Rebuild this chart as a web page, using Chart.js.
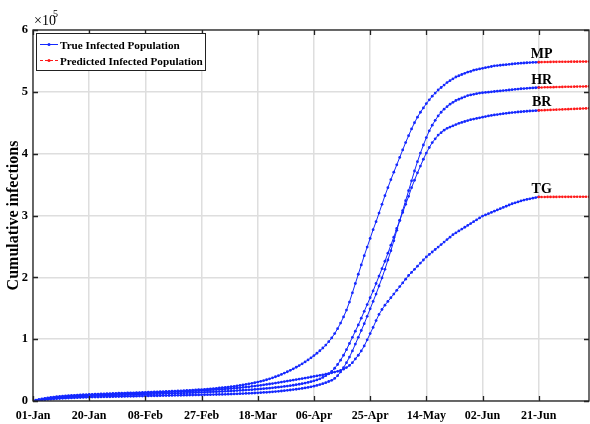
<!DOCTYPE html>
<html>
<head>
<meta charset="utf-8">
<script src="https://cdn.jsdelivr.net/npm/chart.js@4.4.0/dist/chart.umd.min.js"></script>
<style>
  body { margin: 0; background: #fff; }
  #wrap { width: 590px; height: 424px; }
</style>
</head>
<body>
<div id="wrap"><canvas id="myChart"></canvas></div>
<script>
// tick labels on the date axis, one every 19 days starting 01-Jan
var dateLabels = ['01-Jan', '20-Jan', '08-Feb', '27-Feb', '18-Mar', '06-Apr', '25-Apr', '14-May', '02-Jun', '21-Jun'];
var tickStep = 19;
var lastTrueDay = 171;
var lastDay = 188;

// region names written at the end of each curve
var regionNames = ['MP', 'HR', 'BR', 'TG'];

// true cumulative infections, thousands, one value per day (day 0 = 01-Jan)
var mpTrue = [
  0, 1.2, 2.3, 3.3, 4.2, 5.0, 5.7, 6.3, 6.9, 7.4, 7.8, 8.2, 8.6, 8.9, 9.2, 9.5, 9.8, 10.1, 10.3, 10.6,
  10.8, 11.0, 11.2, 11.4, 11.6, 11.8, 12.0, 12.1, 12.3, 12.5, 12.7, 12.8, 13.0, 13.2, 13.3, 13.5, 13.7, 13.8, 14.0, 14.2,
  14.4, 14.6, 14.8, 15.0, 15.2, 15.4, 15.6, 15.8, 16.0, 16.2, 16.5, 16.7, 17.0, 17.3, 17.6, 17.9, 18.2, 18.5, 18.9, 19.3,
  19.7, 20.1, 20.5, 21.0, 21.5, 22.0, 22.6, 23.2, 23.8, 24.5, 25.2, 26.0, 26.8, 27.7, 28.6, 29.6, 30.6, 31.8, 33.0, 34.4,
  35.9, 37.5, 39.2, 41.0, 43.0, 45.1, 47.3, 49.6, 52.0, 54.6, 57.3, 60.2, 63.2, 66.4, 69.8, 73.4, 77.2, 81.3, 85.7, 90.5,
  96, 102, 109, 117, 126, 136, 147, 160, 175, 190, 205, 220, 235, 249, 263, 277, 290, 304, 318, 332,
  345, 358, 370, 382, 394, 406, 418, 429, 440, 450, 459, 467, 474, 481, 487, 493, 498, 503, 507, 511,
  515, 518, 521, 524, 526, 528, 530, 532, 533, 535, 536, 537, 538, 539, 540, 541, 542, 542.5, 543, 543.5,
  544, 544.5, 545, 545.5, 546, 546.3, 546.6, 547, 547.3, 547.6, 547.8, 548
];
var hrTrue = [
  0, 0.6, 1.2, 1.7, 2.2, 2.6, 3.0, 3.4, 3.7, 4.0, 4.3, 4.6, 4.8, 5.0, 5.2, 5.4, 5.6, 5.8, 6.0, 6.2,
  6.3, 6.4, 6.5, 6.6, 6.7, 6.8, 6.9, 7.0, 7.1, 7.2, 7.3, 7.4, 7.5, 7.6, 7.7, 7.8, 7.9, 8.0, 8.1, 8.2,
  8.3, 8.4, 8.5, 8.6, 8.7, 8.8, 8.9, 9.0, 9.1, 9.2, 9.3, 9.4, 9.5, 9.6, 9.7, 9.8, 9.9, 10.0, 10.1, 10.2,
  10.3, 10.4, 10.5, 10.6, 10.7, 10.8, 11.0, 11.2, 11.4, 11.6, 11.8, 12.0, 12.2, 12.4, 12.6, 12.9, 13.2, 13.5, 13.8, 14.1,
  14.5, 14.9, 15.3, 15.7, 16.2, 16.7, 17.2, 17.8, 18.4, 19.0, 19.7, 20.4, 21.2, 22.0, 23.0, 24.0, 25.2, 26.5, 28.0, 29.6,
  31.5, 33.5, 36.5, 41, 47, 54, 62, 71, 81, 92, 103, 114, 125, 137, 149, 161, 173, 186, 199, 213,
  228, 243, 259, 276, 292, 308, 324, 340, 356, 372, 387, 401, 414, 426, 437, 446, 454, 461, 467, 472,
  476, 480, 483, 486, 488, 490, 492, 494, 495, 496, 497, 498, 498.5, 499, 499.5, 500, 500.5, 501, 501.5, 502,
  502.5, 503, 503.5, 504, 504.5, 505, 505.3, 505.6, 506, 506.3, 506.6, 507
];
var brTrue = [
  0, 0.8, 1.6, 2.3, 2.9, 3.5, 4.0, 4.5, 4.9, 5.3, 5.7, 6.0, 6.3, 6.6, 6.9, 7.1, 7.3, 7.5, 7.7, 7.9,
  8.1, 8.3, 8.5, 8.6, 8.8, 9.0, 9.1, 9.3, 9.4, 9.6, 9.7, 9.9, 10.0, 10.2, 10.3, 10.5, 10.6, 10.8, 10.9, 11.1,
  11.2, 11.4, 11.5, 11.7, 11.8, 12.0, 12.1, 12.3, 12.4, 12.6, 12.7, 12.9, 13.0, 13.2, 13.4, 13.6, 13.8, 14.0, 14.2, 14.4,
  14.6, 14.8, 15.0, 15.2, 15.4, 15.6, 15.9, 16.2, 16.5, 16.8, 17.1, 17.4, 17.7, 18.0, 18.3, 18.7, 19.1, 19.5, 19.9, 20.3,
  20.8, 21.3, 21.8, 22.3, 22.9, 23.5, 24.1, 24.8, 25.5, 26.3, 27.1, 28.0, 29.0, 30.1, 31.3, 32.6, 34.1, 35.9, 38.2, 41.0,
  44, 48, 53, 59, 66, 74, 83, 93, 103, 113, 123, 134, 145, 156, 167, 178, 190, 202, 214, 226,
  239, 252, 265, 279, 292, 305, 318, 331, 345, 357, 369, 380, 391, 401, 410, 418, 424, 430, 434, 438,
  441, 443, 445, 447, 449, 450.5, 452, 453.5, 455, 456, 457, 458, 459, 460, 461, 461.8, 462.6, 463.3, 464, 464.7,
  465.3, 465.9, 466.4, 466.9, 467.4, 467.8, 468.2, 468.6, 469, 469.3, 469.6, 470
];
var tgTrue = [
  0, 1.0, 1.9, 2.7, 3.4, 4.1, 4.7, 5.3, 5.8, 6.3, 6.7, 7.1, 7.5, 7.8, 8.1, 8.4, 8.7, 9.0, 9.2, 9.4,
  9.6, 9.8, 10.0, 10.2, 10.4, 10.6, 10.7, 10.9, 11.1, 11.3, 11.4, 11.6, 11.8, 12.0, 12.1, 12.3, 12.5, 12.7, 12.8, 13.0,
  13.2, 13.4, 13.6, 13.8, 14.0, 14.2, 14.4, 14.6, 14.8, 15.0, 15.2, 15.4, 15.6, 15.8, 16.0, 16.3, 16.6, 16.9, 17.2, 17.5,
  17.8, 18.1, 18.4, 18.7, 19.0, 19.4, 19.8, 20.2, 20.6, 21.0, 21.5, 22.0, 22.5, 23.0, 23.6, 24.2, 24.8, 25.4, 26.1, 26.8,
  27.5, 28.2, 29.0, 29.8, 30.6, 31.4, 32.2, 33.0, 33.8, 34.6, 35.4, 36.2, 37.0, 37.9, 38.8, 39.7, 40.6, 41.5, 42.4, 43.4,
  44.4, 45.5, 46.7, 48.0, 49.5, 51.5, 54, 57.5, 62, 68, 74, 81, 89, 99, 109, 119, 130, 140, 148, 155,
  161, 167, 173, 179, 185, 191, 197, 203, 208, 213, 218, 223, 228, 233, 237, 241, 245, 249, 253, 257,
  261, 265, 269, 272, 275, 278, 281, 284, 287, 290, 293, 296, 299, 301, 303, 305, 307, 309, 311, 313,
  315, 317, 319, 320.5, 322, 323.5, 325, 326, 327, 328, 329, 330
];

// predicted cumulative infections, thousands, from 21-Jun (day 171) to day 188
var mpPred = [548, 548.1, 548.2, 548.3, 548.4, 548.5, 548.5, 548.6, 548.6, 548.7, 548.7, 548.8, 548.8, 548.8, 548.9, 548.9, 548.9, 549];
var hrPred = [507, 507.1, 507.3, 507.4, 507.5, 507.6, 507.8, 507.9, 508, 508.1, 508.2, 508.3, 508.4, 508.5, 508.6, 508.7, 508.8, 508.9];
var brPred = [470, 470.2, 470.4, 470.6, 470.8, 471, 471.2, 471.4, 471.6, 471.8, 472, 472.2, 472.4, 472.6, 472.8, 473, 473.2, 473.4];
var tgPred = [330, 330, 330, 330.1, 330.1, 330.1, 330.1, 330.2, 330.2, 330.2, 330.2, 330.2, 330.3, 330.3, 330.3, 330.3, 330.3, 330.3];

var trueSeries = [mpTrue, hrTrue, brTrue, tgTrue];
var predSeries = [mpPred, hrPred, brPred, tgPred];

var serif = "'Liberation Serif', 'Times New Roman', serif";
var blue = 'rgb(20,40,255)';
var red = 'rgb(255,25,25)';

function toPoints(arr, startDay) {
  return arr.map(function (v, i) { return { x: startDay + i, y: v }; });
}

var datasets = [];
predSeries.forEach(function (arr, k) {
  datasets.push({
    label: 'Predicted Infected Population ' + regionNames[k],
    data: toPoints(arr, lastTrueDay),
    borderColor: red, backgroundColor: red,
    borderWidth: 1, borderDash: [3, 2],
    pointRadius: 1.3, pointBorderWidth: 0, pointBackgroundColor: red
  });
});
trueSeries.forEach(function (arr, k) {
  datasets.push({
    label: 'True Infected Population ' + regionNames[k],
    data: toPoints(arr, 0),
    borderColor: blue, backgroundColor: blue,
    borderWidth: 1,
    pointRadius: 1.4, pointBorderWidth: 0, pointBackgroundColor: blue
  });
});

// box, inward ticks, region names, legend and the x10^5 factor
var decor = {
  id: 'decor',
  afterDraw: function (chart) {
    var ctx = chart.ctx, a = chart.chartArea;
    var xs = chart.scales.x, ys = chart.scales.y;
    ctx.save();

    ctx.strokeStyle = '#222';
    ctx.lineWidth = 1.3;
    ctx.strokeRect(a.left, a.top, a.right - a.left, a.bottom - a.top);

    ctx.beginPath();
    xs.ticks.forEach(function (t) {
      var px = Math.round(xs.getPixelForValue(t.value)) + 0.5;
      ctx.moveTo(px, a.bottom); ctx.lineTo(px, a.bottom - 5);
      ctx.moveTo(px, a.top); ctx.lineTo(px, a.top + 5);
    });
    ys.ticks.forEach(function (t) {
      var py = Math.round(ys.getPixelForValue(t.value)) + 0.5;
      ctx.moveTo(a.left, py); ctx.lineTo(a.left + 5, py);
      ctx.moveTo(a.right, py); ctx.lineTo(a.right - 5, py);
    });
    ctx.stroke();

    // region names above the last observed point
    ctx.fillStyle = '#000';
    ctx.font = 'bold 14px ' + serif;
    ctx.textAlign = 'center';
    ctx.textBaseline = 'alphabetic';
    trueSeries.forEach(function (arr, k) {
      var px = xs.getPixelForValue(lastTrueDay) + 3;
      var py = ys.getPixelForValue(arr[arr.length - 1]) - 4;
      ctx.fillText(regionNames[k], px, py);
    });

    // legend box
    ctx.fillStyle = '#fff';
    ctx.fillRect(36, 33, 169, 37);
    ctx.strokeStyle = '#222';
    ctx.lineWidth = 1;
    ctx.strokeRect(36.5, 33.5, 169, 37);

    ctx.lineWidth = 1;
    ctx.strokeStyle = blue;
    ctx.beginPath(); ctx.moveTo(40, 44.5); ctx.lineTo(58, 44.5); ctx.stroke();
    ctx.fillStyle = blue;
    ctx.beginPath(); ctx.arc(49, 44.5, 1.5, 0, Math.PI * 2); ctx.fill();

    ctx.strokeStyle = red;
    ctx.setLineDash([3, 2]);
    ctx.beginPath(); ctx.moveTo(40, 60.5); ctx.lineTo(58, 60.5); ctx.stroke();
    ctx.setLineDash([]);
    ctx.fillStyle = red;
    ctx.beginPath(); ctx.arc(49, 60.5, 1.5, 0, Math.PI * 2); ctx.fill();

    ctx.fillStyle = '#000';
    ctx.font = 'bold 11.2px ' + serif;
    ctx.textAlign = 'left';
    ctx.fillText('True Infected Population', 60, 48.5);
    ctx.fillText('Predicted Infected Population', 60, 64.5);

    // axis multiplier
    ctx.font = '14px ' + serif;
    ctx.fillText('\u00d710', 34, 25);
    ctx.font = '10px ' + serif;
    ctx.fillText('5', 53, 17);

    ctx.restore();
  }
};

var ctx = document.getElementById('myChart').getContext('2d');

var myChart = new Chart(ctx, {
  type: 'line',
  data: { datasets: datasets },
  options: {
    responsive: true,
    maintainAspectRatio: false,
    animation: false,
    layout: { autoPadding: false, padding: { top: 30, right: 1, left: 0, bottom: 0 } },
    plugins: {
      legend: { display: false },
      tooltip: { enabled: false }
    },
    elements: { line: { tension: 0 } },
    scales: {
      x: {
        type: 'linear',
        min: 0,
        max: lastDay,
        afterFit: function (scale) { scale.height = 23; },
        grid: { color: 'rgb(222,222,222)', lineWidth: 1.5, drawTicks: false },
        border: { display: false },
        ticks: {
          stepSize: tickStep,
          includeBounds: false,
          autoSkip: false,
          maxRotation: 0,
          padding: 8,
          color: '#000',
          font: { family: serif, size: 12, weight: 'bold' },
          callback: function (v) { return dateLabels[v / tickStep]; }
        }
      },
      y: {
        min: 0,
        max: 600,
        afterFit: function (scale) { scale.width = 33; },
        grid: { color: 'rgb(222,222,222)', lineWidth: 1.5, drawTicks: false },
        border: { display: false },
        ticks: {
          stepSize: 100,
          padding: 5,
          color: '#000',
          font: { family: serif, size: 12.5, weight: 'bold' },
          callback: function (v) { return v / 100; }
        },
        title: {
          display: true,
          text: 'Cumulative infections',
          color: '#000',
          font: { family: serif, size: 16, weight: 'bold' }
        }
      }
    }
  },
  plugins: [decor]
});
</script>
</body>
</html>
